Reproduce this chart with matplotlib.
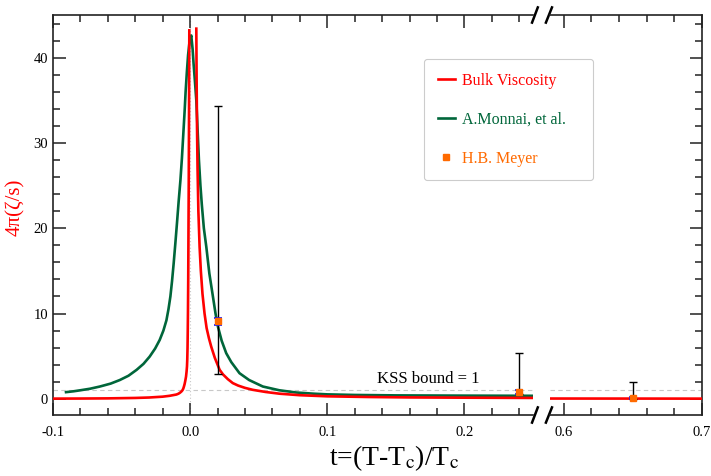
import numpy as np
import matplotlib
matplotlib.use('Agg')
import matplotlib.pyplot as plt
from matplotlib.ticker import MultipleLocator

plt.rcParams['font.family'] = ['Liberation Serif', 'DejaVu Serif']
plt.rcParams['mathtext.fontset'] = 'stix'

# Bulk viscosity, two branches around Tc
bulk_t_below = [-0.1, -0.08, -0.06, -0.04, -0.03, -0.02, -0.015, -0.01, -0.0085, -0.0075,
                -0.0064, -0.0056, -0.005, -0.0045, -0.004, -0.0035, -0.003, -0.0026, -0.0023, -0.0021,
                -0.0019, -0.00175, -0.0016, -0.0014, -0.0012, -0.001, -0.0008, -0.0006]
bulk_v_below = [0.02, 0.03, 0.05, 0.1, 0.15, 0.25, 0.35, 0.5, 0.6, 0.7,
                 0.85, 1.0, 1.2, 1.45, 1.75, 2.15, 2.6, 3.2, 3.8, 4.6,
                 6.0, 7.8, 10.0, 14.0, 20.0, 26.0, 34.0, 43.2]
bulk_t_above = [0.0045, 0.0047, 0.005, 0.0054, 0.006, 0.0069, 0.0078, 0.009, 0.0105, 0.012,
                0.0137, 0.0154, 0.018, 0.0215, 0.024, 0.0275, 0.0311, 0.035, 0.04, 0.0457,
                0.055, 0.065, 0.08, 0.1, 0.13, 0.16, 0.2, 0.25, 0.3, 0.4, 0.5, 0.6, 0.7]
bulk_v_above = [43.4, 38.0, 32.0, 27.0, 22.0, 17.8, 15.0, 12.3, 10.0, 8.3,
                7.1, 6.1, 4.8, 3.4, 2.85, 2.3, 1.84, 1.55, 1.28, 1.05,
                0.8, 0.6, 0.42, 0.29, 0.21, 0.16, 0.13, 0.1, 0.08, 0.05, 0.04, 0.03, 0.02]

# A.Monnai, et al.
monnai_t = [-0.0905, -0.085, -0.08, -0.073, -0.0658, -0.058, -0.0513, -0.045, -0.039, -0.034,
            -0.0295, -0.0255, -0.0222, -0.0195, -0.0173, -0.0158, -0.0144, -0.0132, -0.012, -0.0108,
            -0.0096, -0.0084, -0.0071, -0.006, -0.005, -0.004, -0.0033, -0.0024, -0.0015, -0.0005,
            0.0008, 0.0018, 0.0025, 0.0035, 0.0045, 0.0055, 0.0064, 0.0075, 0.0085, 0.01,
            0.0118, 0.014, 0.0166, 0.0185, 0.0202, 0.023, 0.0263, 0.03, 0.036, 0.043,
            0.053, 0.065, 0.0772, 0.09, 0.1, 0.12, 0.15, 0.2, 0.25]
monnai_v = [0.78, 0.88, 1.0, 1.18, 1.44, 1.78, 2.2, 2.7, 3.4, 4.1,
            4.95, 5.9, 6.9, 8.0, 9.2, 10.5, 12.0, 13.8, 15.9, 18.2,
            20.6, 23.1, 25.6, 28.2, 31.0, 33.8, 36.0, 38.3, 40.3, 41.8,
            42.6, 41.0, 39.3, 37.2, 35.0, 31.3, 28.0, 25.0, 22.8, 20.0,
            17.8, 14.7, 12.0, 10.0, 8.5, 6.8, 5.35, 4.3, 3.0, 2.2,
            1.44, 1.0, 0.74, 0.6, 0.52, 0.45, 0.4, 0.37, 0.35]

# H.B. Meyer lattice points
meyer_t = [0.02, 0.24, 0.65]
meyer_v = [9.1, 0.8, 0.1]
meyer_stat = [0.4, 0.25, 0.1]
meyer_lower = [2.9, 0.55, 0.0]
meyer_upper = [34.3, 5.4, 2.0]

kss = 1.0

red = '#ff0000'
green = '#00663a'
orange = '#ff6a00'

fig = plt.figure(figsize=(7.11, 4.76), dpi=100)
ax1 = fig.add_axes([53/711, 61/476, 480/711, 400/476])
ax2 = fig.add_axes([550/711, 61/476, 152/711, 400/476])

yerr_tot = [np.array(meyer_v) - np.array(meyer_lower), np.array(meyer_upper) - np.array(meyer_v)]

for ax in (ax1, ax2):
    ax.axhline(kss, color='#c8c8c8', lw=0.8, ls=(0, (4, 3)), zorder=1)
    ax.plot(bulk_t_below, bulk_v_below, color=red, lw=1.9, zorder=3)
    ax.plot(bulk_t_above, bulk_v_above, color=red, lw=1.9, zorder=3, label='Bulk Viscosity')
    ax.plot(monnai_t, monnai_v, color=green, lw=1.9, zorder=2, label='A.Monnai, et al.')
    ax.errorbar(meyer_t, meyer_v, yerr=yerr_tot, fmt='none', ecolor='black',
                elinewidth=1.0, capsize=3, capthick=1.0, zorder=4)
    ax.errorbar(meyer_t, meyer_v, yerr=meyer_stat, fmt='none',
                ecolor='#1010ff', elinewidth=1.0, capsize=3, capthick=1.2, zorder=4.5)
    ax.plot(meyer_t, meyer_v, 's', color=orange, ms=4.5, ls='none', zorder=5,
            label='H.B. Meyer')
    ax.set_ylim(-1.9, 45)
    ax.yaxis.set_major_locator(MultipleLocator(10))
    ax.yaxis.set_minor_locator(MultipleLocator(2))
    ax.xaxis.set_major_locator(MultipleLocator(0.1))
    ax.xaxis.set_minor_locator(MultipleLocator(0.02))
    ax.tick_params(which='both', direction='in', top=True, right=True, width=1.1,
                   labelsize=10.5, color='#222222')
    ax.tick_params(which='major', length=9)
    ax.tick_params(which='minor', length=5)
    ax.tick_params(axis='x', pad=8)
    for s in ax.spines.values():
        s.set_linewidth(1.2)
        s.set_color('#222222')

ax1.axvline(0, color='#c8c8c8', lw=0.8, ls=(0, (1, 2)), zorder=1)
ax1.set_xlim(-0.1, 0.25)
ax2.set_xlim(0.59, 0.7)
ax1.spines['right'].set_visible(False)
ax2.spines['left'].set_visible(False)
ax1.tick_params(which='both', right=False)
ax2.tick_params(which='both', left=False, labelleft=False)
ax1.xaxis.set_major_formatter(lambda v, p: '%.1f' % v)
ax2.xaxis.set_major_formatter(lambda v, p: '%.1f' % v)

ax1.text(0.136, 1.85, 'KSS bound = 1', fontsize=12, ha='left', va='baseline')

ax1.set_ylabel('4π(ζ/s)', color=red, fontsize=15)
ax1.yaxis.set_label_coords(-0.058, 0.52)
fig.text(394/711, 1 - 458/476, r't=(T-T$_{\rm c}$)/T$_{\rm c}$', fontsize=20,
         ha='center', va='center')

# break marks
kw = dict(color='black', lw=1.8, clip_on=False)
for y in (0, 1):
    ax1.plot([1.004 - 0.006, 1.004 + 0.006], [y - 0.019, y + 0.019], transform=ax1.transAxes, **kw)
    ax2.plot([-0.007 - 0.02, -0.007 + 0.02], [y - 0.019, y + 0.019], transform=ax2.transAxes, **kw)

h, l = ax1.get_legend_handles_labels()
leg = fig.legend(h, l, loc='upper left',
                 bbox_to_anchor=(424/711, 1 - 176/476, 169/711, 117/476),
                 mode='expand', borderaxespad=0, fontsize=11.5, handlelength=1.1,
                 handletextpad=0.45, labelspacing=1.45, borderpad=0.85,
                 labelcolor=[red, green, orange], edgecolor='#cccccc', framealpha=1,
                 fancybox=True)
leg.get_frame().set_linewidth(0.8)

plt.savefig('out.png', dpi=100)
